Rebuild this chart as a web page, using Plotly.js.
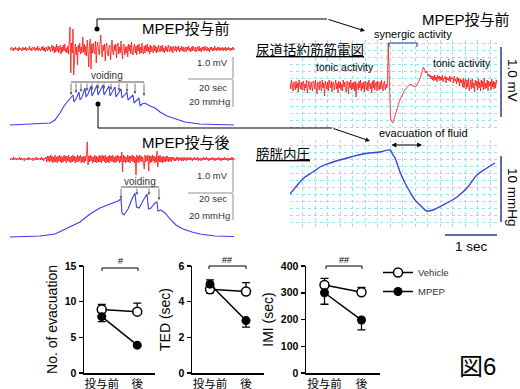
<!DOCTYPE html>
<html><head><meta charset="utf-8">
<script src="https://cdn.plot.ly/plotly-3.0.1.min.js"></script>
<style>html,body{margin:0;padding:0;background:#fff}#chart{width:520px;height:389px}</style>
</head><body><div id="chart"></div>
<script>
const W = 520, H = 389;
const FONT = 'Liberation Sans, Arial, "Noto Sans CJK JP", sans-serif';

// ---------- bottom summary plots ----------
const groups = ['投与前', '後'];
const seriesNames = ['Vehicle', 'MPEP'];
const vehEvac = [8.9, 8.6], vehEvacUp = [0.7, 1.2], vehEvacDn = [0, 0];
const mpepEvac = [7.9, 3.9], mpepEvacUp = [0, 0], mpepEvacDn = [0.7, 0.15];
const vehTED = [4.7, 4.57], vehTEDUp = [0, 0.5], vehTEDDn = [0.22, 0];
const mpepTED = [4.98, 2.94], mpepTEDUp = [0.24, 0], mpepTEDDn = [0, 0.37];
const vehIMI = [329, 302], vehIMIUp = [25, 18], vehIMIDn = [0, 0];
const mpepIMI = [300, 198], mpepIMIUp = [0, 0], mpepIMIDn = [43, 37];

// ---------- raw recordings ----------
// urethral EMG before MPEP (sampling step 0.375 s)
const preEmg = [
  1,-1,2,0,-2,1,-1,2,-1,0,1,-2,2,-1,1,0,-2,2,-1,1,
  -1,2,-2,1,0,-1,3,-1,1,-2,2,0,-1,2,-2,1,-1,3,-2,1,
  0,-2,2,-1,3,-2,1,-3,2,0,-2,3,-1,2,-3,1,4,-2,3,-4,
  2,-3,5,-2,3,-4,1,4,-5,2,-3,4,-2,5,-3,1,-4,3,-5,4,
  22,-24,6,-4,20,-26,3,5,-6,2,-16,4,-3,6,-5,2,-4,12,-3,5,
  -6,3,-7,9,-2,-18,4,10,-20,5,-4,6,-3,-5,8,-14,3,7,-2,-6,
  5,14,-3,-8,4,-2,5,-12,3,6,-4,-7,2,4,-11,3,9,-3,-6,4,
  -2,5,-9,3,6,-5,2,-4,8,-3,-10,4,5,-6,2,-4,3,-8,5,-2,
  4,-5,7,-3,-6,2,5,-4,3,-6,4,-2,5,-5,2,-4,6,-3,-5,3,
  -4,4,-2,5,-3,2,-5,4,-3,3,-1,-4,4,-2,3,-4,2,-3,4,-1,
  -3,3,-2,4,-3,1,-4,3,-2,2,-3,4,-1,-3,3,-2,2,-4,3,-1,
  -2,3,-3,2,-1,3,-3,1,-2,3,-2,2,-3,1,2,-3,2,-1,3,-2,
  1,-3,2,-2,3,-1,-2,2,-3,1,2,-2,3,-2,1,-3,2,-1,2,-2,
  3,-1,-2,2,-2,1,-3,2,-1,2,-2,1,-2,3,-1,1,-2,2,-1,2,
  -2,1,-1,2,-2,1,-1,2,-2,1,-1,2,-1,1,-2,1,-1,2,-1,1];
// bladder pressure before MPEP
const prePressT = [0,15,20,22.5,25,27,29,30.5,31.5,32, 33,34.5,35,36,37.5,38,39,40.5,41,42,
  43.5,44,45,46.5,47,48,49.5,50,51,52.5, 53,54,55.5,56,57,58.5,59,60,61.5,62,
  63,64.5,65,66,67.5,70,72.5,75,78.5,82.5, 87.5,95,112];
const prePressV = [0,1,2,5,12,19,24,27,30,23, 26,33,25,28,37,28,31,39,29,33,
  40,30,34,40,30,34,39,29,33,38, 28,31,36,27,29,33,25,27,30,22,
  24,27,19,21,22,19,17,13,9,6, 3,1,0];
// urethral EMG after MPEP (sampling step 0.375 s)
const postEmg = [
  1,-1,0,1,-1,2,-1,0,1,-1,1,0,-1,2,-1,1,-1,0,1,-2,
  1,0,-1,1,-1,2,-1,1,0,-1,1,-2,1,0,-1,2,-1,1,-1,0,
  1,-1,2,-1,1,-2,1,0,2,-3,3,-2,3,-3,4,-2,3,-4,2,-3,
  4,-3,2,-4,3,-2,4,-3,3,-4,2,-3,4,-2,3,-4,3,-2,4,-3,
  2,-4,3,-3,4,-2,3,-4,2,-3,4,-3,3,-2,4,-4,2,-3,3,-4,
  3,-2,4,17,-6,3,-3,4,-2,3,-4,2,-3,4,-3,3,-4,2,-3,4,
  -3,3,-4,4,-2,3,-3,4,-4,2,-3,3,-4,4,-2,3,-3,4,-3,2,
  -4,3,-3,4,-2,3,-4,3,-3,7,-13,4,-3,3,-4,2,-3,4,-3,3,
  -4,3,-2,4,-3,3,-4,2,-16,4,-3,3,-4,4,-2,3,-3,2,-4,-10,
  4,-3,3,-2,4,-12,3,-4,3,-3,4,-2,3,-4,2,-3,8,-8,3,-3,
  4,-3,2,-4,3,-3,2,-3,3,-2,3,-3,2,-2,2,-3,2,-1,2,-2,
  1,-2,2,-1,2,-2,1,-1,2,-2,1,-2,2,-1,1,-2,2,-1,1,-1,
  2,-1,1,-2,1,-1,2,-1,1,-1,2,-2,1,-1,1,-2,1,-1,2,-1,
  1,-1,2,-1,1,-2,1,-1,1,-1,2,-1,1,-2,1,-1,1,-1,2,-1,
  1,-2,1,-1,1,-1,2,-1,1,-1,1,-2,1,-1,1,-1,2,-1,1,-1];
// bladder pressure after MPEP
const postPressT = [0,15,22.5,28.5,35,40,45,50,54,55.5,56,57,59,61,62.5,63.25,64.5,67,68.5,69.25,
  70.5,72.5,73.5,74,75.5,77.5,80,83,86.5,91,95,102.5,112];
const postPressV = [0,1,3,9,15,23,29,33,36,38,24,22,28,38,44,30,29,38,43,28,
  29,34,35,26,27,24,18,12,8,5,3,1,0.5];
// expanded EMG (sampling step 0.015 s)
const zoomEmg = [
  2,-4,5,-2,-6,3,1,-5,4,-3,2,-7,5,-1,-4,3,-5,2,4,-6,
  1,-3,5,-8,2,4,-2,-5,3,-1,-6,4,2,-4,5,-3,-9,3,1,-5,
  4,-2,-6,5,-3,2,-11,4,1,-4,3,-6,5,-2,-3,4,-7,2,3,-5,
  -1,5,-4,2,-8,4,-3,3,-5,1,-6,5,-2,3,-4,-7,4,1,-9,3,
  -3,5,-5,2,-4,3,-6,4,-12,2,1,-5,4,-3,5,-6,2,-4,3,-7,
  4,-2,-5,3,-6,5,-1,-4,2,-8,4,-3,5,-5,1,3,-6,4,-2,-5,
  3,-4,5,-3,-6,2,4,-5,1,-3,2,
  42,10,-24,-32,-36,-38,-38,-36,-33,-30, -27,-25,-22,-20,-18,-16,-14,-12,-11,-9,
  -8,-6,-5,-4,-3,-2,-1,-1,0,0, 1,0,0,-1,-1,-2,-2,-1,0,1,
  2,4,6,9,12,14,17,18,16,13, 12,14,11,9,11,8,10,6,9,5,
  9,4,10,5,8,3,10,6,9,4,8,5,10,3,7,6,9,2,8,5,
  7,4,9,3,8,6,7,2,9,4,6,1,8,3,7,-1,6,2,5,-2,
  7,-3,4,6,-4,5,-2,7,-6,3,5,-4,6,-3,2,-7,5,-1,4,-5,
  6,-3,3,-6,5,-2,4,-5,7,-4,2,-3,5,-6,4,-1,3,-5,6,-2,
  4,-4,3,-3,5,1];
// expanded bladder pressure
const zoomPressT = [0,0.2,0.3,0.46,0.6,0.8,1.14,1.46,1.8,2.0,2.06,2.1,2.2,2.3,2.4,2.5,2.6,2.7,2.74,2.86,3.14,3.34,3.54,3.74,3.94,4.1];
const zoomPressV = [21,33,38,43,48,52,57,61,63,65,60,57,43,32,23,15,10,5,4,5,12,18,27,40,47,52];

// ---------- helpers ----------
const fx = p => p / W, fy = p => 1 - p / H;
const dX = (a, b) => [a / W, b / W], dY = (t, b) => [1 - b / H, 1 - t / H];

const traces = [];
const sumPlots = [
  {ax: '', v: vehEvac, vu: vehEvacUp, vd: vehEvacDn, m: mpepEvac, mu: mpepEvacUp, md: mpepEvacDn},
  {ax: '2', v: vehTED, vu: vehTEDUp, vd: vehTEDDn, m: mpepTED, mu: mpepTEDUp, md: mpepTEDDn},
  {ax: '3', v: vehIMI, vu: vehIMIUp, vd: vehIMIDn, m: mpepIMI, mu: mpepIMIUp, md: mpepIMIDn}
];
sumPlots.forEach((p, i) => {
  traces.push({x: groups, y: p.v, name: seriesNames[0], xaxis: 'x' + p.ax, yaxis: 'y' + p.ax,
    mode: 'lines+markers', showlegend: i === 0, legendgroup: 'v',
    line: {color: '#000', width: 1.5},
    marker: {symbol: 'circle', size: 9, color: '#fff', line: {color: '#000', width: 1.5}},
    error_y: {type: 'data', symmetric: false, array: p.vu, arrayminus: p.vd, color: '#000', thickness: 1.3, width: 4}});
  traces.push({x: groups, y: p.m, name: seriesNames[1], xaxis: 'x' + p.ax, yaxis: 'y' + p.ax,
    mode: 'lines+markers', showlegend: i === 0, legendgroup: 'm',
    line: {color: '#000', width: 1.5},
    marker: {symbol: 'circle', size: 9, color: '#000'},
    error_y: {type: 'data', symmetric: false, array: p.mu, arrayminus: p.md, color: '#000', thickness: 1.3, width: 4}});
});
traces.push({y: preEmg, x0: 0, dx: 0.375, xaxis: 'x4', yaxis: 'y4', mode: 'lines', showlegend: false, line: {color: '#ff1010', width: 0.8}});
traces.push({x: prePressT, y: prePressV, xaxis: 'x5', yaxis: 'y5', mode: 'lines', showlegend: false, line: {color: '#3c3cf0', width: 1.1}});
traces.push({y: postEmg, x0: 0, dx: 0.375, xaxis: 'x6', yaxis: 'y6', mode: 'lines', showlegend: false, line: {color: '#ff1010', width: 0.8}});
traces.push({x: postPressT, y: postPressV, xaxis: 'x7', yaxis: 'y7', mode: 'lines', showlegend: false, line: {color: '#3c3cf0', width: 1.1}});
traces.push({y: zoomEmg, x0: 0, dx: 0.015, xaxis: 'x8', yaxis: 'y8', mode: 'lines', showlegend: false, line: {color: '#ff1010', width: 0.8}});
traces.push({x: zoomPressT, y: zoomPressV, xaxis: 'x9', yaxis: 'y9', mode: 'lines', showlegend: false, line: {color: '#3b44d6', width: 1.4, shape: 'spline'}});

const hidden = (dom, rng, anchor) => ({domain: dom, range: rng, anchor: anchor, visible: false, fixedrange: true});
const gridAx = (dom, rng, anchor, dt) => ({domain: dom, range: rng, anchor: anchor, showticklabels: false, ticks: '',
  showline: false, zeroline: false, showgrid: true, gridcolor: '#8fe6f2', griddash: 'dot', gridwidth: 1, dtick: dt, tick0: 0, fixedrange: true});
const catX = (dom, anchor) => ({domain: dom, anchor: anchor, type: 'category', range: [-0.5, 1.5], showline: true, linewidth: 1.5,
  linecolor: '#000', ticks: '', showgrid: false, zeroline: false,
  tickfont: {size: 11.5, color: '#000', family: FONT}, fixedrange: true});
const valY = (dom, anchor, rng, dt, title) => ({domain: dom, anchor: anchor, range: rng, dtick: dt, showline: true, linewidth: 1.5,
  linecolor: '#000', ticks: 'outside', ticklen: 4, tickwidth: 1.5, tickcolor: '#000', showgrid: false, zeroline: false,
  tickfont: {size: 10.5, color: '#000', family: FONT, weight: 'bold'}, title: {text: title, font: {size: 14, color: '#000', family: FONT}, standoff: 4}, fixedrange: true});

const shapes = [];
const L = (x0, y0, x1, y1, c, w) => shapes.push({type: 'line', xref: 'paper', yref: 'paper', x0: fx(x0), y0: fy(y0), x1: fx(x1), y1: fy(y1), line: {color: c, width: w}});
const dot = (x, y, r) => shapes.push({type: 'circle', xref: 'paper', yref: 'paper', x0: fx(x - r), x1: fx(x + r), y0: fy(y + r), y1: fy(y - r), fillcolor: '#000', line: {color: '#000', width: 0}});
// connectors
L(97, 29, 97, 19, '#000', 1); L(97, 19, 327, 19, '#000', 1); dot(97, 29, 2.5);
L(98, 104, 98, 128, '#000', 1); L(98, 128, 332, 128, '#000', 1); dot(98, 104, 2.5);
// grey scale bars
const G = '#b4b4b4';
L(233, 57, 233, 78, G, 1.5); L(188, 79, 233, 79, G, 1.5); L(233, 80, 233, 107, G, 1.5);
L(233, 160, 233, 192, G, 1.5); L(188, 193, 233, 193, G, 1.5); L(233, 194, 233, 220, G, 1.5);
// voiding brackets
const V = '#555';
L(71, 82, 144, 82, V, 1); L(121, 187, 159, 187, V, 1);
// synergic bracket
const B = '#3355aa';
L(389, 43, 417, 43, B, 1.2); L(389, 43, 389, 47, B, 1.2); L(417, 43, 417, 47, B, 1.2);
// right scale bars
const N = '#2b3990';
L(501, 47, 501, 117, N, 1.5); L(501, 156, 501, 222, N, 1.5); L(445, 235, 497, 235, N, 1.5);
// significance brackets
[[102, 138, 268], [209, 246, 266], [326, 362, 266]].forEach(b => {
  L(b[0], b[2], b[1], b[2], '#000', 1); L(b[0], b[2], b[0], b[2] + 3, '#000', 1); L(b[1], b[2], b[1], b[2] + 3, '#000', 1);
});

const ann = [];
const T = (text, x, y, size, extra) => ann.push(Object.assign({text: text, x: fx(x), y: fy(y), xref: 'paper', yref: 'paper',
  showarrow: false, xanchor: 'center', yanchor: 'middle', font: {size: size, color: '#000', family: FONT}}, extra || {}));
const A = (hx, hy, tx, ty, opts) => ann.push(Object.assign({text: '', x: fx(hx), y: fy(hy), xref: 'paper', yref: 'paper',
  showarrow: true, ax: tx - hx, ay: ty - hy, axref: 'pixel', ayref: 'pixel', arrowcolor: '#000', arrowwidth: 1, arrowhead: 2, arrowsize: 1, standoff: 0}, opts || {}));

T('MPEP投与前', 186, 29, 15);
T('MPEP投与後', 186, 142, 15);
const gf = {font: {size: 9.5, color: '#333', family: FONT}};
T('1.0 mV', 212, 63, 9.5, gf); T('20 sec', 213, 87, 9.5, gf); T('20 mmHg', 209, 102, 9.5, gf);
T('1.0 mV', 212, 175, 9.5, gf); T('20 sec', 213, 199, 9.5, gf); T('20 mmHg', 209, 215, 9.5, gf);
T('voiding', 107, 76, 10, {font: {size: 10, color: '#333', family: FONT}});
T('voiding', 140, 181, 10, {font: {size: 10, color: '#333', family: FONT}});
T('MPEP投与前', 466, 19, 15);
T('synergic activity', 413, 34, 11);
T('<u>尿道括約筋筋電図</u>', 310, 50, 13.5);
T('tonic activity', 345, 67, 10.5);
T('tonic activity', 462, 63, 10.5);
T('evacuation of fluid', 423, 133, 11);
T('<u>膀胱内圧</u>', 283, 154, 13.5);
T('1.0 mV', 513, 80, 13.5, {textangle: 90});
T('10 mmHg', 513, 197, 13.5, {textangle: 90});
T('1 sec', 471, 247, 13.5);
T('図6', 477, 366, 24);
T('#', 120, 261, 9); T('##', 227, 260, 9); T('##', 344, 260, 9);
// connector arrowheads
A(365, 31, 327, 19, {arrowsize: 0.9});
A(370, 141, 332, 128, {arrowsize: 0.9});
// evacuation double arrow
A(422, 145, 390, 145, {arrowside: 'end+start', arrowsize: 0.8, arrowwidth: 1.2});
// voiding arrows
const vx1 = [71, 76, 81, 87, 92, 98, 104, 111, 119, 127, 135, 144], vy1 = [95, 93, 92, 91, 90, 89, 89, 90, 91, 92, 94, 96];
vx1.forEach((x, i) => A(x, vy1[i], x, 82, {arrowcolor: V, arrowwidth: 0.8, arrowsize: 0.7}));
const vx2 = [121, 137, 149, 159], vy2 = [199, 195, 195, 200];
vx2.forEach((x, i) => A(x, vy2[i], x, 187, {arrowcolor: V, arrowwidth: 0.8, arrowsize: 0.7}));

const layout = {
  width: W, height: H, margin: {l: 0, r: 0, t: 0, b: 0}, paper_bgcolor: '#fff', plot_bgcolor: 'rgba(0,0,0,0)',
  font: {family: FONT, color: '#000'}, showlegend: true,
  legend: {x: fx(378), y: fy(258), xanchor: 'left', yanchor: 'top', font: {size: 9.5, color: '#333', family: FONT},
    bgcolor: 'rgba(0,0,0,0)', itemwidth: 30, tracegroupgap: 0},
  xaxis: catX(dX(84, 155), 'y'), yaxis: valY(dY(266, 373), 'x', [0, 15], 5, 'No. of evacuation'),
  xaxis2: catX(dX(192, 264), 'y2'), yaxis2: valY(dY(266, 373), 'x2', [0, 6], 2, 'TED (sec)'),
  xaxis3: catX(dX(306, 380), 'y3'), yaxis3: valY(dY(266, 373), 'x3', [0, 400], 100, 'IMI (sec)'),
  xaxis4: hidden(dX(10, 236), [0, 113], 'y4'), yaxis4: hidden(dY(19, 79), [-30, 30], 'x4'),
  xaxis5: hidden(dX(10, 236), [0, 113], 'y5'), yaxis5: hidden(dY(78, 130), [-5, 47], 'x5'),
  xaxis6: hidden(dX(10, 236), [0, 113], 'y6'), yaxis6: hidden(dY(131, 187), [-28, 28], 'x6'),
  xaxis7: hidden(dX(10, 236), [0, 113], 'y7'), yaxis7: hidden(dY(185, 242), [-5, 52], 'x7'),
  xaxis8: gridAx(dX(290, 497), [0, 4.14], 'y8', 0.25), yaxis8: gridAx(dY(40, 130), [-45, 45], 'x8', 7),
  xaxis9: gridAx(dX(290, 497), [0, 4.14], 'y9', 0.25), yaxis9: gridAx(dY(140, 230), [-15, 75], 'x9', 7),
  shapes: shapes, annotations: ann
};
Plotly.newPlot('chart', traces, layout, {displayModeBar: false, staticPlot: true});
</script></body></html>
